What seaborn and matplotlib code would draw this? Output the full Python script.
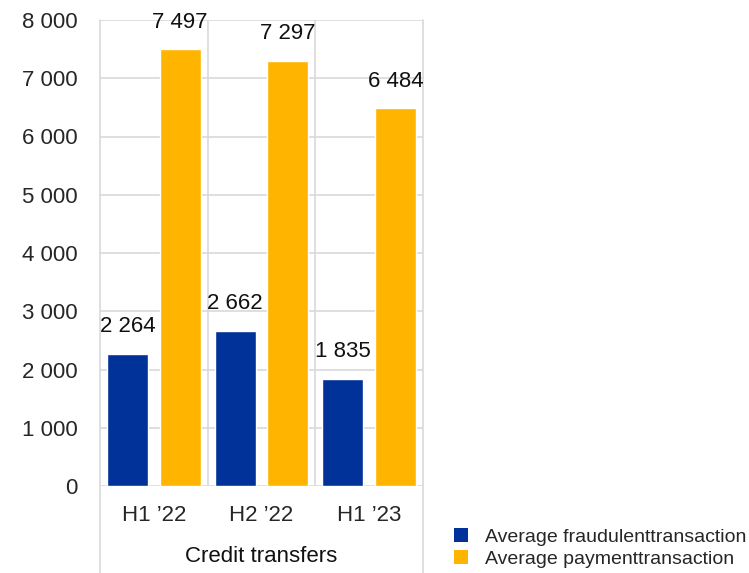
import matplotlib
matplotlib.use("Agg")
import matplotlib.pyplot as plt
import matplotlib.transforms as mtransforms
from matplotlib.lines import Line2D
from matplotlib.patches import Patch
import seaborn as sns
import pandas as pd

periods = ["H1 \u201922", "H2 \u201922", "H1 \u201923"]
series_names = ["Average fraudulenttransaction", "Average paymenttransaction"]
fraudulent = [2264, 2662, 1835]
payment = [7497, 7297, 6484]
y_ticks = [0, 1000, 2000, 3000, 4000, 5000, 6000, 7000, 8000]
group_label = "Credit transfers"

colors = ["#003299", "#FFB400"]
grid_color = "#d9d9d9"

sns.set_theme(style="white")
plt.rcParams["font.family"] = ["Liberation Sans", "DejaVu Sans"]

df = pd.DataFrame({
    "period": periods * 2,
    "series": [series_names[0]] * 3 + [series_names[1]] * 3,
    "value": fraudulent + payment,
})

fig = plt.figure(figsize=(7.49, 5.73), dpi=100)
ax = fig.add_axes([100 / 749, 87 / 573, 323 / 749, 466 / 573])

sns.barplot(data=df, x="period", y="value", hue="series", order=periods,
            hue_order=series_names, palette=colors, width=0.98, gap=0.22,
            saturation=1, legend=False, ax=ax, zorder=3)

ax.set_xlim(-0.5, 2.5)
ax.set_ylim(0, 8000)
ax.set_yticks(y_ticks)
ax.set_yticklabels([f"{v:,}".replace(",", " ") for v in y_ticks], fontsize=16)
ax.tick_params(axis="y", length=0, pad=16)
ax.tick_params(axis="x", length=0, pad=14, labelsize=16)
ax.set_xlabel("")
ax.set_ylabel("")
for s in ax.spines.values():
    s.set_visible(False)

# horizontal gridlines
for v in y_ticks:
    ax.axhline(v, color=grid_color, lw=1.2, zorder=1)

# category separators inside the plot area
for xv in [0.5, 1.5]:
    ax.axvline(xv, color=grid_color, lw=1.2, zorder=1)

# outer frame lines running down to the bottom of the figure
trans = mtransforms.blended_transform_factory(ax.transData, ax.transAxes)
for xv in [-0.5, 2.5]:
    ax.add_line(Line2D([xv, xv], [-87 / 466, 1.0], transform=trans,
                       color=grid_color, lw=1.2, clip_on=False, zorder=1))

# value labels above bars
for cont in ax.containers:
    labels = [f"{int(round(b.get_height())):,}".replace(",", " ") for b in cont]
    ax.bar_label(cont, labels=labels, padding=12, fontsize=16, color="#111111")

# group label
ax.text(0.5, -71 / 466, group_label, transform=ax.transAxes, ha="center",
        va="center", fontsize=16, color="#111111")

handles = [Patch(facecolor=c, edgecolor="none") for c in colors]
fig.legend(handles, series_names, loc="center left",
           bbox_to_anchor=(454 / 749, 1 - 548 / 573), frameon=False,
           fontsize=14, handlelength=0.72, handleheight=0.72,
           handletextpad=0.85, labelspacing=0.25, borderpad=0,
           borderaxespad=0)

fig.savefig("out.png", dpi=100)
